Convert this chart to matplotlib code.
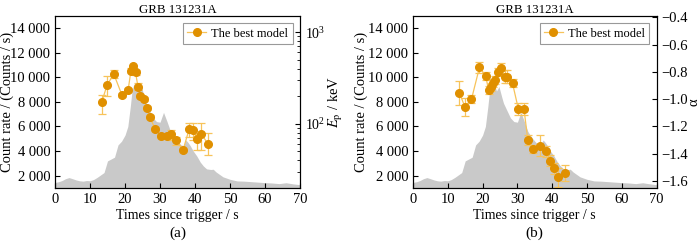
import numpy as np
import matplotlib
matplotlib.use("Agg")
import matplotlib.pyplot as plt
from matplotlib.ticker import FuncFormatter, MultipleLocator, LogLocator

plt.rcParams["font.family"] = ["Liberation Serif", "DejaVu Serif"]
plt.rcParams["mathtext.fontset"] = "stix"
plt.rcParams["font.size"] = 9

# light curve of GRB 131231A (counts / s)
lc_t = [0, 1, 2, 3, 4, 5, 6, 7, 8, 9, 10, 11, 12, 13, 14, 15, 16, 17, 18, 19, 20,
        20.8, 21.5, 22, 22.5, 23.3, 24, 24.7, 25.5, 26, 27, 28, 29, 30, 31, 32,
        33, 34, 35, 36, 36.7, 37.4, 38, 38.6, 39.5, 40.5, 41.5, 42.4, 43.3,
        44.5, 45.2, 46, 47, 48, 49, 50, 52, 54, 56, 58, 60, 62, 64, 66, 68, 70]
lc_rate = [1450, 1500, 1600, 1750, 1840, 1750, 1650, 1580, 1550, 1600, 1580, 1680,
           1850, 2050, 2250, 3200, 3350, 3500, 4500, 4800, 5300,
           6000, 7600, 8900, 9450, 9450, 8900, 9250, 8400, 7900, 7300, 6700,
           6400, 6350, 7150, 6400, 5600, 5150, 4800, 4500, 4450, 4900, 4700,
           4450, 4000, 3600, 3100, 2780, 2550, 2500, 2520, 2300, 2100, 1900,
           1800, 1700, 1570, 1550, 1510, 1470, 1430, 1400, 1350, 1420, 1330, 1260]

# time-resolved spectral fits
t_bin = [13.3, 14.9, 16.8, 19.1, 20.9, 21.7, 22.3, 23.0, 23.7, 24.4, 25.4, 26.3,
         27.1, 28.6, 30.3, 31.9, 33.0, 34.6, 36.6, 38.3, 39.4, 40.6, 41.8, 43.8]

ep = [171, 266, 348, 207, 235, 381, 422, 363, 255, 202, 186, 148,
      118, 88, 74, 74, 77, 66, 52, 87, 86, 68, 77, 60]
ep_lo = [42, 67, 30, 12, 12, 20, 20, 20, 24, 10, 10, 8,
         6, 5, 4, 4, 10, 7, 3, 15, 20, 16, 25, 14]
ep_hi = [36, 68, 34, 12, 12, 20, 20, 20, 22, 10, 10, 8,
         6, 5, 4, 4, 9, 6, 3, 15, 17, 10, 26, 19]

alpha = [-0.952, -1.055, -1.001, -0.767, -0.830, -0.933, -0.913, -0.879, -0.859,
         -0.803, -0.774, -0.835, -0.835, -0.884, -1.074, -1.074, -1.299, -1.363,
         -1.341, -1.380, -1.451, -1.507, -1.573, -1.539]
alpha_err = [0.087, 0.066, 0.03, 0.043, 0.03, 0.03, 0.03, 0.03, 0.03, 0.03, 0.04,
             0.05, 0.05, 0.03, 0.045, 0.045, 0.04, 0.03, 0.077, 0.04, 0.04, 0.04,
             0.067, 0.057]

gray = "#c9c9c9"
orange = "#e09000"
light = "#f7c35a"


def thousands(v, pos):
    return "{:,}".format(int(v)).replace(",", " ")


def panel(ax, letter, lab_x):
    ax.fill_between(lc_t, 1000, lc_rate, color=gray, lw=0)
    ax.set_xlim(0, 70)
    ax.set_ylim(1000, 15000)
    ax.xaxis.set_major_locator(MultipleLocator(10))
    ax.yaxis.set_major_locator(MultipleLocator(2000))
    ax.yaxis.set_major_formatter(FuncFormatter(thousands))
    ax.tick_params(direction="in", length=3.5, labelsize=10.5)
    ax.set_xlabel("Times since trigger / s", fontsize=10, labelpad=2)
    ax.set_ylabel("Count rate / (Counts / s)", fontsize=10.5)
    ax.yaxis.set_label_coords(lab_x, 0.5)
    ax.set_title("GRB 131231A", fontsize=9.3, pad=2)
    ax.text(0.5, -0.262, letter, transform=ax.transAxes, ha="center", va="center",
            fontsize=11)


def add_legend(ax):
    leg = ax.legend(loc="upper right", fontsize=9, fancybox=False, edgecolor="#808080",
                    handlelength=1.5, borderpad=0.35, handletextpad=0.4,
                    borderaxespad=0.6)
    leg.get_frame().set_linewidth(0.8)


fig = plt.figure(figsize=(7, 2.45), dpi=100)
ax1 = fig.add_axes([0.0786, 0.233, 0.35, 0.702])
ax2 = fig.add_axes([0.590, 0.233, 0.348, 0.702])

panel(ax1, "(a)", -0.168)
r1 = ax1.twinx()
r1.set_yscale("log")
r1.errorbar(t_bin, ep, yerr=[ep_lo, ep_hi], fmt="none", ecolor=light, elinewidth=0.9,
            capsize=3, capthick=0.9)
r1.plot(t_bin, ep, "-o", color=light, lw=0.9, mfc=orange, mec=orange, ms=5.5,
        label="The best model")
r1.set_ylim(20, 1500)
r1.yaxis.set_major_locator(LogLocator(base=10))
r1.tick_params(axis="y", which="both", direction="in", labelsize=10)
r1.tick_params(axis="y", which="major", length=3.5)
r1.tick_params(axis="y", which="minor", length=2)
r1.set_ylabel(r"$E_{\rm p}$ / keV", fontsize=10.5)
r1.yaxis.set_label_coords(1.112, 0.5)
add_legend(r1)

panel(ax2, "(b)", -0.185)
r2 = ax2.twinx()
r2.errorbar(t_bin, alpha, yerr=alpha_err, fmt="none", ecolor=light, elinewidth=0.9,
            capsize=3, capthick=0.9)
r2.plot(t_bin, alpha, "-o", color=light, lw=0.9, mfc=orange, mec=orange, ms=5.5,
        label="The best model")
r2.set_ylim(-1.65, -0.39)
r2.yaxis.set_major_locator(MultipleLocator(0.2))
r2.yaxis.set_major_formatter(FuncFormatter(lambda v, p: ("%.1f" % v).replace("-", "\u2212")))
r2.tick_params(axis="y", direction="in", length=3.5, labelsize=10.5)
r2.set_ylabel("α", fontsize=10.5)
r2.yaxis.set_label_coords(1.128, 0.5)
add_legend(r2)

fig.savefig("out.png", dpi=100)
